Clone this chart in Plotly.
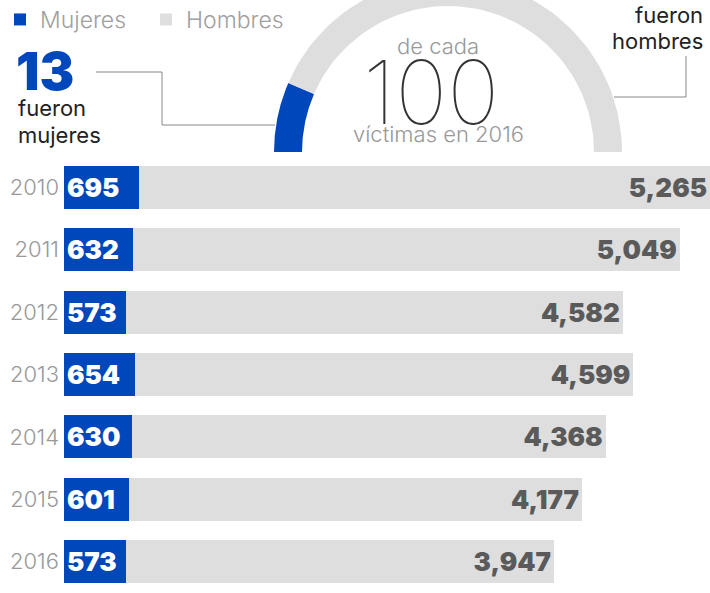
import numpy as np
import plotly.graph_objects as go

years = ["2010", "2011", "2012", "2013", "2014", "2015", "2016"]
mujeres = [695, 632, 573, 654, 630, 601, 573]
hombres = [5265, 5049, 4582, 4599, 4368, 4177, 3947]
share_labels = ["Mujeres", "Hombres"]
share_2016 = [13, 87]

BLUE = "#0047BB"
GRAY = "#DEDEDE"
FONT = "Inter"

W, H = 710, 593
top_px = 156
ydom = (H - top_px) / H

fig = go.Figure()
fig.add_trace(go.Bar(
    y=years, x=mujeres, orientation="h", name="Mujeres",
    marker=dict(color=BLUE, line=dict(width=0)),
    text=[f"{v:,}" for v in mujeres], textposition="inside",
    insidetextanchor="start", constraintext="none",
    textfont=dict(family=FONT, size=26, color="white", weight=900),
    hoverinfo="skip"))
fig.add_trace(go.Bar(
    y=years, x=hombres, orientation="h", name="Hombres",
    marker=dict(color=GRAY, line=dict(width=0)),
    text=[f"{v:,}" for v in hombres], textposition="inside",
    insidetextanchor="end", constraintext="none",
    textfont=dict(family=FONT, size=26, color="#5A5A5A", weight=900),
    hoverinfo="skip"))

# gauge (semicircle) in pixel-like axes x2/y2, center (448, 0)
cx, r_out, r_in = 448, 174, 146
total = sum(share_2016)
start = 180.0
colors = [BLUE, GRAY]
for lab, v, col in zip(share_labels, share_2016, colors):
    end = start - 180.0 * v / total
    t = np.radians(np.linspace(start, end, 80))
    xs = np.concatenate([cx + r_out * np.cos(t), cx + r_in * np.cos(t[::-1])])
    ys = np.concatenate([r_out * np.sin(t), r_in * np.sin(t[::-1])])
    fig.add_trace(go.Scatter(x=xs, y=ys, xaxis="x2", yaxis="y2", mode="lines",
                             fill="toself", fillcolor=col, line=dict(width=0, color=col),
                             showlegend=False, hoverinfo="skip"))
    start = end

fig.update_layout(
    width=W, height=H, margin=dict(l=0, r=0, t=0, b=0, autoexpand=False),
    paper_bgcolor="white", plot_bgcolor="white",
    barmode="stack", bargap=0.31,
    font=dict(family=FONT),
    showlegend=True,
    legend=dict(orientation="h", x=0, y=1 + 2 / H, xanchor="left", yanchor="top",
                font=dict(family=FONT, size=23, color="#A0A0A0", weight=300),
                entrywidth=101, entrywidthmode="pixels",
                bgcolor="rgba(0,0,0,0)", itemclick=False, traceorder="normal"),
    xaxis=dict(domain=[64 / W, 1], range=[0, 5960], visible=False, fixedrange=True),
    yaxis=dict(domain=[0, ydom], categoryorder="array", categoryarray=years[::-1],
               fixedrange=True,
               showline=False, showgrid=False, zeroline=False, ticks="",
               tickfont=dict(family=FONT, size=22, color="#999999", weight=300),
               ticklabelstandoff=4, automargin=False),
    xaxis2=dict(domain=[0, 1], range=[0, W], visible=False, anchor="y2", fixedrange=True),
    yaxis2=dict(domain=[ydom, 1], range=[-4, 152], visible=False, anchor="x2", fixedrange=True),
)

def ann(text, x, y, size, color, xanchor="center", weight=400):
    fig.add_annotation(text=text, x=x, y=y, xref="x2", yref="y2", showarrow=False,
                       xanchor=xanchor, yanchor="middle",
                       font=dict(family=FONT, size=size, color=color, weight=weight))

ann("13", 14, 81, 52, BLUE, xanchor="left", weight=900)
ann("fueron", 16, 44, 22, "#222222", xanchor="left")
ann("mujeres", 16, 17, 22, "#222222", xanchor="left")
ann("fueron", 705, 137, 22, "#222222", xanchor="right")
ann("hombres", 705, 111, 22, "#222222", xanchor="right")
ann("de cada", 438, 106, 22, "#999999", weight=300)
ann("100", 431, 60, 88, "#333333", weight=100)
ann("víctimas en 2016", 438, 18, 22, "#999999", weight=300)

line = dict(color="#888888", width=1)
fig.add_shape(type="path", xref="x2", yref="y2",
              path="M 96 80 L 162 80 L 162 27 L 275 27", line=line)
fig.add_shape(type="path", xref="x2", yref="y2",
              path="M 686 96 L 686 55 L 614 55", line=line)

fig.write_html("out.html",
               config={"displayModeBar": False, "staticPlot": True},
               post_script="document.body.style.margin='0';"
                           "document.body.style.overflow='hidden';")
